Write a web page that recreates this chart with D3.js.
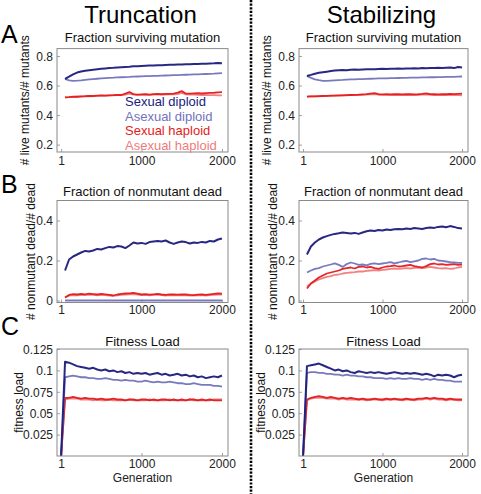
<!DOCTYPE html>
<html><head><meta charset="utf-8">
<script src="https://cdn.jsdelivr.net/npm/d3@7"></script>
<style>
html,body{margin:0;padding:0;background:#fff;}
svg{display:block;font-family:"Liberation Sans",Arial,Helvetica,sans-serif;}
</style></head>
<body><svg id="chart" width="481" height="494"></svg>
<script>
// ---------------- data ----------------
const generations = [50,100,150,200,250,300,350,400,450,500,550,600,650,700,750,800,850,900,950,1000,
  1050,1100,1150,1200,1250,1300,1350,1400,1450,1500,1550,1600,1650,1700,1750,1800,1850,1900,1950,2000];
const generationsLoad = [1,50,100,150,200,250,300,350,400,450,500,550,600,650,700,750,800,850,900,950,1000,
  1050,1100,1150,1200,1250,1300,1350,1400,1450,1500,1550,1600,1650,1700,1750,1800,1850,1900,1950,2000];

const seriesNames = ["Sexual diploid","Asexual diploid","Sexual haploid","Asexual haploid"];
const xTicks = [1,1000,2000];
const columnTitles = ["Truncation","Stabilizing"];
const rowLetters = ["A","B","C"];
const rowTitles = ["Fraction surviving mutation","Fraction of nonmutant dead","Fitness Load"];
const rowYLabels = ["# live mutants/# mutants","# nonmutant dead/# dead","fitness load"];
const yTicksA = [0.2,0.4,0.6,0.8];
const yTicksB = [0,0.2,0.4];
const yTicksC = [0.025,0.05,0.075,0.1,0.125];

// A: fraction surviving mutation
const survTruncSexDip  = [0.645,0.660,0.675,0.688,0.695,0.700,0.704,0.707,0.710,0.713,0.716,0.719,0.720,0.722,0.724,0.726,0.727,0.730,0.731,0.733,0.734,0.735,0.736,0.737,0.738,0.739,0.740,0.741,0.742,0.743,0.744,0.744,0.745,0.746,0.747,0.748,0.749,0.750,0.752,0.750];
const survTruncAsexDip = [0.645,0.635,0.632,0.633,0.635,0.638,0.641,0.644,0.646,0.648,0.650,0.652,0.653,0.655,0.656,0.657,0.658,0.660,0.661,0.662,0.663,0.664,0.665,0.666,0.667,0.668,0.669,0.670,0.671,0.672,0.673,0.674,0.675,0.676,0.677,0.678,0.679,0.680,0.682,0.684];
const survTruncSexHap  = [0.520,0.522,0.525,0.524,0.527,0.528,0.530,0.529,0.532,0.533,0.531,0.534,0.535,0.537,0.536,0.545,0.556,0.542,0.538,0.540,0.541,0.539,0.542,0.543,0.541,0.544,0.543,0.545,0.552,0.562,0.546,0.545,0.547,0.548,0.546,0.549,0.550,0.551,0.553,0.555];
const survTruncAsexHap = [0.520,0.521,0.523,0.524,0.525,0.526,0.527,0.528,0.530,0.531,0.532,0.533,0.534,0.535,0.536,0.538,0.545,0.538,0.537,0.537,0.538,0.537,0.538,0.539,0.538,0.539,0.540,0.540,0.542,0.550,0.540,0.539,0.538,0.537,0.536,0.536,0.535,0.535,0.534,0.533];
const survStabSexDip   = [0.665,0.672,0.680,0.686,0.690,0.694,0.698,0.701,0.703,0.705,0.704,0.706,0.708,0.707,0.709,0.710,0.711,0.710,0.712,0.713,0.712,0.714,0.713,0.715,0.714,0.716,0.715,0.717,0.716,0.718,0.717,0.719,0.718,0.720,0.719,0.721,0.722,0.718,0.726,0.722];
const survStabAsexDip  = [0.665,0.652,0.642,0.636,0.632,0.631,0.633,0.635,0.637,0.638,0.640,0.641,0.642,0.643,0.644,0.645,0.646,0.647,0.648,0.648,0.649,0.650,0.650,0.651,0.652,0.652,0.653,0.653,0.654,0.655,0.655,0.656,0.656,0.657,0.657,0.658,0.658,0.659,0.660,0.661];
const survStabSexHap   = [0.525,0.526,0.527,0.528,0.529,0.530,0.531,0.532,0.533,0.534,0.535,0.536,0.537,0.538,0.540,0.542,0.545,0.548,0.541,0.540,0.541,0.540,0.542,0.541,0.540,0.541,0.542,0.540,0.541,0.543,0.547,0.542,0.541,0.540,0.542,0.541,0.543,0.542,0.544,0.545];
const survStabAsexHap  = [0.525,0.526,0.527,0.527,0.528,0.529,0.530,0.531,0.532,0.533,0.534,0.535,0.535,0.536,0.537,0.538,0.540,0.542,0.538,0.537,0.537,0.536,0.537,0.536,0.537,0.536,0.537,0.536,0.537,0.538,0.540,0.537,0.536,0.535,0.536,0.535,0.536,0.535,0.535,0.534];

// B: fraction of nonmutant dead
const deadTruncSexDip  = [0.150,0.205,0.220,0.230,0.240,0.248,0.245,0.250,0.258,0.255,0.262,0.268,0.265,0.272,0.270,0.262,0.275,0.290,0.285,0.288,0.283,0.292,0.295,0.298,0.295,0.300,0.290,0.283,0.290,0.295,0.292,0.285,0.290,0.288,0.293,0.290,0.298,0.295,0.305,0.310];
const deadTruncAsexDip = [0,0,0,0,0,0,0,0,0,0,0,0,0,0,0,0,0,0,0,0,0,0,0,0,0,0,0,0,0,0,0,0,0,0,0,0,0,0,0,0];
const deadTruncSexHap  = [0.015,0.028,0.032,0.030,0.033,0.031,0.034,0.032,0.030,0.033,0.031,0.028,0.025,0.030,0.033,0.035,0.036,0.038,0.034,0.030,0.032,0.029,0.031,0.033,0.030,0.028,0.031,0.030,0.029,0.031,0.030,0.028,0.027,0.029,0.030,0.028,0.031,0.033,0.035,0.034];
const deadTruncAsexHap = [0.015,0.024,0.027,0.026,0.028,0.027,0.029,0.028,0.026,0.028,0.027,0.025,0.023,0.026,0.028,0.030,0.031,0.032,0.029,0.027,0.028,0.026,0.028,0.029,0.027,0.025,0.027,0.026,0.026,0.027,0.026,0.025,0.025,0.026,0.027,0.025,0.027,0.028,0.030,0.029];
const deadStabSexDip   = [0.230,0.270,0.290,0.305,0.315,0.322,0.328,0.333,0.336,0.340,0.338,0.335,0.338,0.333,0.340,0.346,0.350,0.348,0.352,0.350,0.355,0.353,0.356,0.358,0.356,0.360,0.358,0.362,0.360,0.358,0.362,0.365,0.363,0.368,0.370,0.366,0.372,0.368,0.362,0.360];
const deadStabAsexDip  = [0.140,0.150,0.158,0.162,0.170,0.175,0.180,0.186,0.178,0.168,0.182,0.190,0.185,0.178,0.180,0.176,0.183,0.186,0.182,0.185,0.188,0.192,0.186,0.190,0.195,0.198,0.192,0.196,0.200,0.208,0.210,0.205,0.208,0.200,0.198,0.195,0.192,0.190,0.188,0.188];
const deadStabSexHap   = [0.060,0.085,0.100,0.115,0.125,0.135,0.140,0.145,0.150,0.158,0.162,0.165,0.160,0.168,0.170,0.165,0.168,0.162,0.158,0.165,0.170,0.172,0.175,0.170,0.172,0.175,0.178,0.172,0.168,0.165,0.172,0.182,0.185,0.180,0.182,0.178,0.180,0.182,0.178,0.180];
const deadStabAsexHap  = [0.070,0.085,0.095,0.105,0.112,0.118,0.122,0.128,0.130,0.135,0.138,0.140,0.142,0.145,0.145,0.148,0.150,0.152,0.150,0.153,0.155,0.158,0.160,0.158,0.160,0.162,0.160,0.163,0.165,0.162,0.165,0.168,0.165,0.162,0.160,0.162,0.158,0.160,0.165,0.168];

// C: fitness load
const loadTruncSexDip  = [0,0.110,0.109,0.107,0.105,0.104,0.103,0.102,0.103,0.101,0.100,0.101,0.099,0.100,0.098,0.099,0.097,0.098,0.096,0.097,0.096,0.097,0.095,0.096,0.097,0.095,0.096,0.094,0.095,0.096,0.094,0.095,0.093,0.094,0.092,0.093,0.091,0.092,0.093,0.092,0.094];
const loadTruncAsexDip = [0,0.092,0.093,0.094,0.093,0.092,0.092,0.091,0.091,0.090,0.090,0.091,0.090,0.089,0.089,0.088,0.089,0.088,0.088,0.087,0.087,0.088,0.087,0.086,0.087,0.086,0.086,0.087,0.086,0.085,0.085,0.084,0.084,0.085,0.084,0.083,0.083,0.083,0.082,0.082,0.081];
const loadTruncSexHap  = [0,0.068,0.068,0.069,0.068,0.067,0.068,0.067,0.067,0.066,0.067,0.066,0.066,0.067,0.066,0.066,0.065,0.066,0.066,0.065,0.066,0.066,0.065,0.066,0.065,0.066,0.066,0.065,0.066,0.065,0.066,0.065,0.066,0.066,0.065,0.066,0.065,0.066,0.065,0.065,0.065];
const loadTruncAsexHap = [0,0.066,0.067,0.067,0.067,0.066,0.066,0.066,0.065,0.066,0.065,0.065,0.066,0.065,0.065,0.065,0.065,0.066,0.065,0.065,0.065,0.065,0.066,0.065,0.065,0.065,0.065,0.066,0.065,0.065,0.065,0.065,0.066,0.065,0.065,0.065,0.065,0.065,0.066,0.066,0.066];
const loadStabSexDip   = [0,0.105,0.106,0.107,0.108,0.106,0.104,0.102,0.100,0.101,0.099,0.100,0.098,0.097,0.099,0.098,0.097,0.098,0.097,0.098,0.097,0.096,0.097,0.098,0.097,0.096,0.097,0.096,0.097,0.096,0.095,0.096,0.095,0.093,0.095,0.094,0.095,0.094,0.092,0.094,0.095];
const loadStabAsexDip  = [0,0.097,0.098,0.098,0.097,0.097,0.096,0.096,0.095,0.095,0.094,0.095,0.094,0.094,0.093,0.093,0.092,0.092,0.091,0.091,0.091,0.090,0.091,0.090,0.091,0.090,0.090,0.091,0.090,0.090,0.089,0.090,0.089,0.090,0.089,0.089,0.088,0.088,0.087,0.087,0.087];
const loadStabSexHap   = [0,0.066,0.068,0.069,0.070,0.069,0.068,0.069,0.068,0.067,0.068,0.067,0.068,0.067,0.066,0.067,0.066,0.066,0.067,0.066,0.066,0.067,0.066,0.067,0.066,0.066,0.067,0.066,0.066,0.067,0.067,0.068,0.067,0.068,0.067,0.067,0.066,0.067,0.066,0.066,0.066];
const loadStabAsexHap  = [0,0.065,0.067,0.068,0.068,0.068,0.067,0.067,0.067,0.066,0.067,0.066,0.066,0.066,0.066,0.066,0.065,0.066,0.066,0.066,0.065,0.066,0.066,0.066,0.066,0.065,0.066,0.066,0.065,0.066,0.066,0.067,0.066,0.067,0.066,0.066,0.065,0.066,0.066,0.065,0.065];

// ---------------- layout / style ----------------
const colors = ["#1c1c7c","#7272ba","#e31a1c","#ee7b7b"];
const colX = [{l:57,r:228},{l:299,r:468}];
const rows = [
  {t:48.6,b:152,domain:[0.15,0.85],ticks:yTicksA,titleY:42,xLabY:165,letterY:43,yLabX:28.5,
   x:generations,data:[[survTruncSexDip,survTruncAsexDip,survTruncSexHap,survTruncAsexHap],[survStabSexDip,survStabAsexDip,survStabSexHap,survStabAsexHap]]},
  {t:200.5,b:302.5,domain:[-0.01,0.5],ticks:yTicksB,titleY:196,xLabY:313.5,letterY:193,yLabX:35,
   x:generations,data:[[deadTruncSexDip,deadTruncAsexDip,deadTruncSexHap,deadTruncAsexHap],[deadStabSexDip,deadStabAsexDip,deadStabSexHap,deadStabAsexHap]]},
  {t:349,b:456,domain:[0,0.125],ticks:yTicksC,titleY:346,xLabY:467.5,letterY:335,yLabX:22.5,
   x:generationsLoad,data:[[loadTruncSexDip,loadTruncAsexDip,loadTruncSexHap,loadTruncAsexHap],[loadStabSexDip,loadStabAsexDip,loadStabSexHap,loadStabAsexHap]]}
];

const svg = d3.select("#chart");
const defs = svg.append("defs");

// column titles
columnTitles.forEach((t,ci)=>{
  svg.append("text").attr("x",(colX[ci].l+colX[ci].r)/2 - 2).attr("y",23)
    .attr("text-anchor","middle").attr("font-size",24).attr("fill","#000").text(t);
});
// row letters
rows.forEach((row,ri)=>{
  svg.append("text").attr("x",1).attr("y",row.letterY).attr("font-size",25).attr("fill","#000").text(rowLetters[ri]);
});

// separator
svg.append("line").attr("x1",251).attr("x2",251).attr("y1",0).attr("y2",494)
  .attr("stroke","#000").attr("stroke-width",2.6).attr("stroke-dasharray","2.2,1.4");

rows.forEach((row,ri)=>{
  colX.forEach((c,ci)=>{
    const x = d3.scaleLinear().domain([-50,2075]).range([c.l,c.r]);
    const y = d3.scaleLinear().domain(row.domain).range([row.b,row.t]);
    const g = svg.append("g");
    const cid = "clip"+ri+"_"+ci;
    defs.append("clipPath").attr("id",cid).append("rect")
      .attr("x",c.l).attr("y",row.t).attr("width",c.r-c.l).attr("height",row.b-row.t);

    // subtitle
    g.append("text").attr("x",(c.l+c.r)/2).attr("y",row.titleY).attr("text-anchor","middle")
      .attr("font-size",13).attr("fill","#111").text(rowTitles[ri]);

    // axes
    const xAxis = d3.axisBottom(x).tickValues(xTicks).tickSize(-3).tickPadding(6).tickFormat(d=>String(d));
    const gx = g.append("g").attr("transform",`translate(0,${row.b})`).call(xAxis);
    const yAxis = d3.axisLeft(y).tickValues(row.ticks).tickSize(-3).tickPadding(4).tickFormat(d=>String(d));
    const gy = g.append("g").attr("transform",`translate(${c.l},0)`).call(yAxis);
    [gx,gy].forEach(ax=>{
      ax.select(".domain").remove();
      ax.selectAll(".tick line").attr("stroke","#888").attr("stroke-width",0.8);
      ax.selectAll(".tick text").attr("font-size",12).attr("fill","#222")
        .attr("font-family","'Liberation Sans',Arial,sans-serif");
    });
    gx.selectAll(".tick text").attr("dy",null).attr("y",row.xLabY-row.b);
    gy.selectAll(".tick text").attr("dy","0.36em");

    // lines
    const lines = g.append("g").attr("clip-path",`url(#${cid})`);
    const order = [3,2,1,0];
    order.forEach(si=>{
      const vals = row.data[ci][si];
      const pts = vals.map((v,i)=>[row.x[i],v]);
      lines.append("path").datum(pts)
        .attr("d",d3.line().x(d=>x(d[0])).y(d=>y(d[1])))
        .attr("fill","none").attr("stroke",colors[si])
        .attr("stroke-width",si===0?2:1.8).attr("stroke-linejoin","round").attr("stroke-opacity",0.95);
    });

    // box
    g.append("rect").attr("x",c.l).attr("y",row.t).attr("width",c.r-c.l).attr("height",row.b-row.t)
      .attr("fill","none").attr("stroke","#8a8a8a").attr("stroke-width",1);

    // y label
    const cy = (row.t+row.b)/2;
    const lx = row.yLabX + (ci===1?242:0);
    g.append("text").attr("transform",`translate(${lx},${cy}) rotate(-90)`)
      .attr("text-anchor","middle").attr("font-size",12).attr("fill","#111").text(rowYLabels[ri]);

    if(ri===2){
      g.append("text").attr("x",(c.l+c.r)/2).attr("y",482).attr("text-anchor","middle")
        .attr("font-size",12).attr("fill","#222").text("Generation");
    }
    if(ri===0 && ci===0){
      const lg = [106,120.5,135,149.5];
      seriesNames.forEach((n,si)=>{
        g.append("text").attr("x",125).attr("y",lg[si]).attr("font-size",13)
          .attr("fill",colors[si]).text(n);
      });
    }
  });
});
</script></body></html>
